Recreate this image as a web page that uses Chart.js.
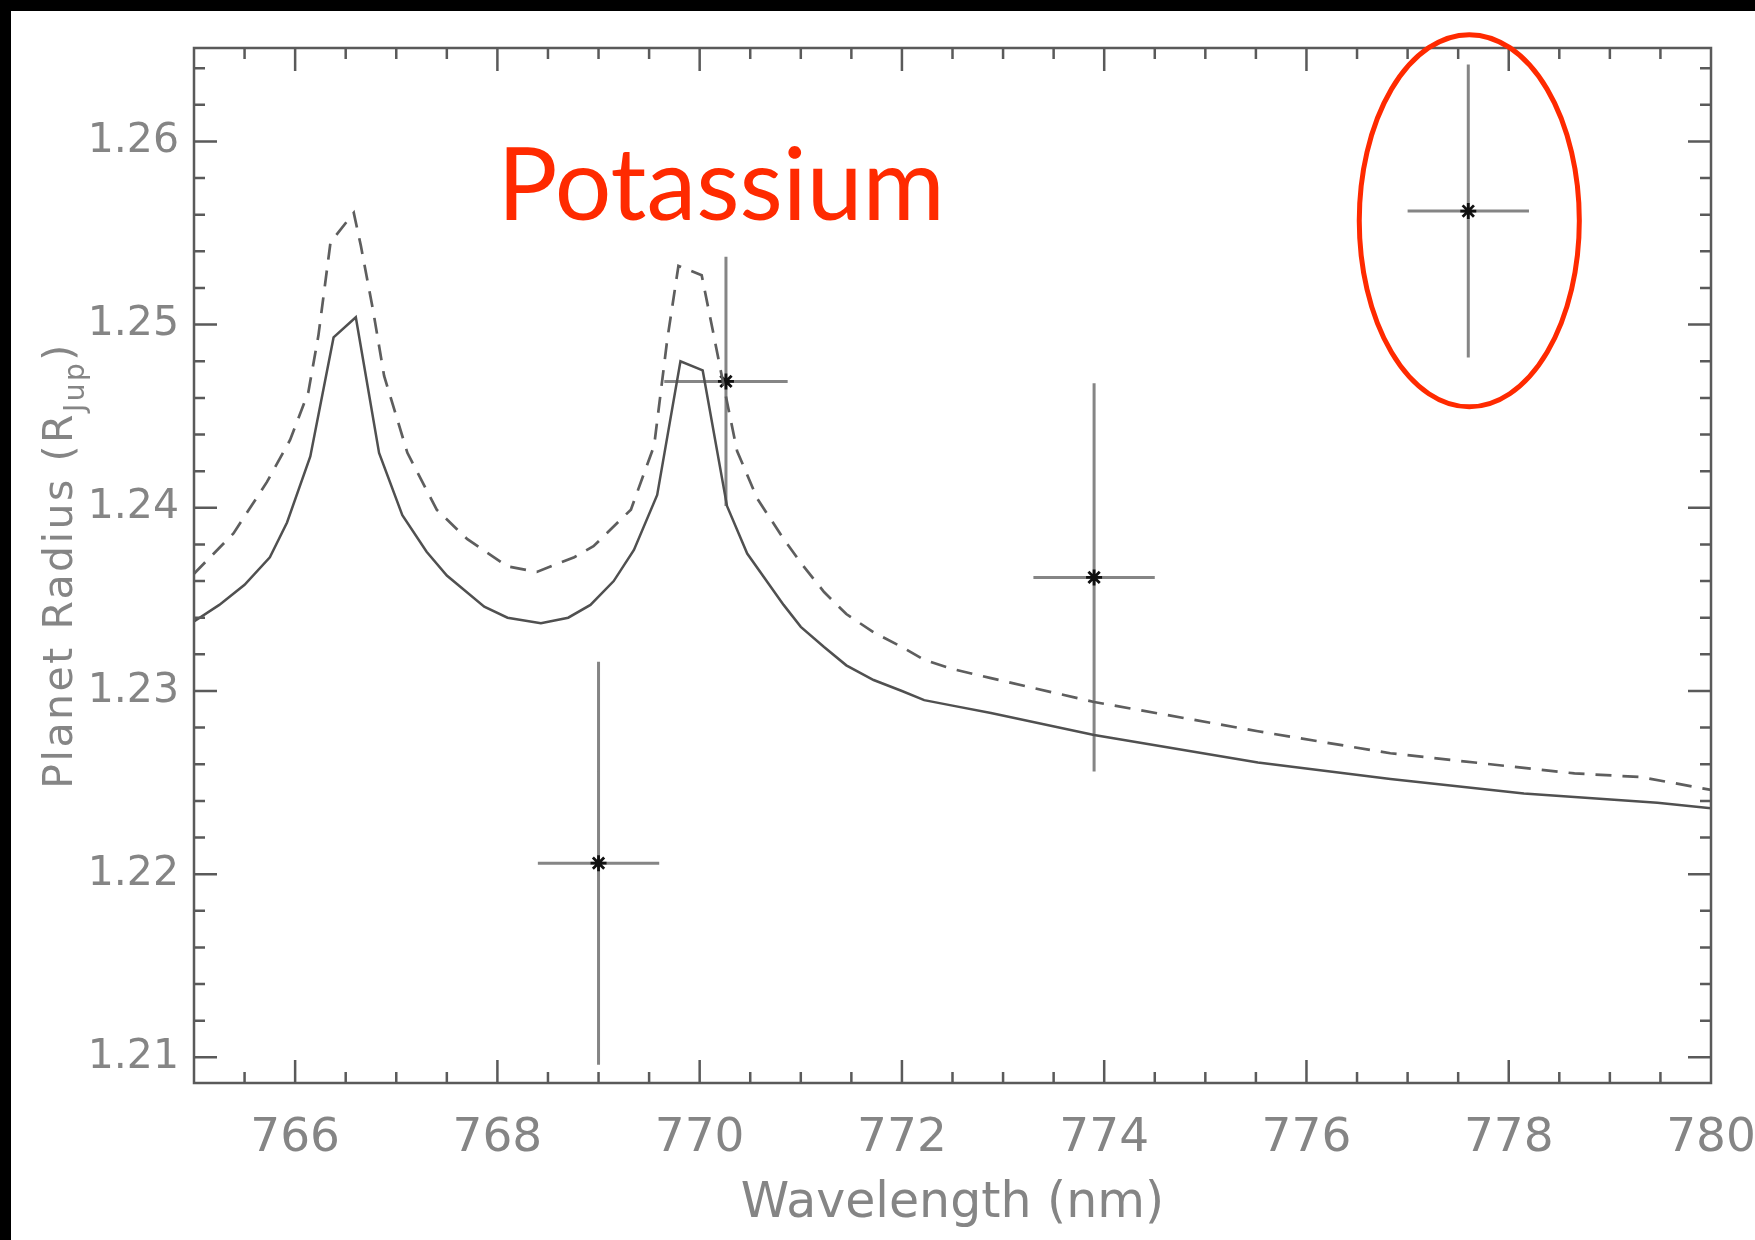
<!DOCTYPE html>
<html>
<head>
<meta charset="utf-8">
<script src="https://cdn.jsdelivr.net/npm/chart.js@4.4.1/dist/chart.umd.min.js"></script>
<style>
  html, body { margin: 0; padding: 0; background: #000; }
  #wrap { position: absolute; left: 11px; top: 11px; width: 1744px; height: 1229px; background: #fff; }
  canvas { display: block; }
</style>
</head>
<body>
<div id="wrap"><canvas id="chart" width="1744" height="1229"></canvas></div>
<script>
// model curves
const solidX = [765.0, 765.25, 765.5, 765.75, 765.92, 766.15, 766.38, 766.6, 766.83, 767.06, 767.3, 767.5,
  767.87, 768.1, 768.43, 768.7, 768.92, 769.15, 769.35, 769.58, 769.81, 770.03, 770.27, 770.47, 770.83,
  771.0, 771.23, 771.45, 771.72, 772.0, 772.22, 772.5, 772.88, 773.9, 775.52, 776.83, 778.15, 779.47, 780.0];
const solidY = [1.2338, 1.2347, 1.2358, 1.2373, 1.2392, 1.2428, 1.2493, 1.2504, 1.2430, 1.2396, 1.2376, 1.2363,
  1.2346, 1.2340, 1.2337, 1.2340, 1.2347, 1.2360, 1.2377, 1.2407, 1.2480, 1.2475, 1.2401, 1.2375, 1.2347,
  1.2335, 1.2324, 1.2314, 1.2306, 1.2300, 1.2295, 1.2292, 1.2288, 1.2276, 1.2261, 1.2252, 1.2244, 1.2239, 1.2236];

const dashedX = [765.0, 765.39, 765.72, 765.95, 766.13, 766.23, 766.35, 766.58, 766.65, 766.77, 766.88, 767.11,
  767.4, 767.7, 768.1, 768.39, 768.76, 768.95, 769.32, 769.55, 769.68, 769.79, 770.02, 770.14, 770.24, 770.37,
  770.57, 770.83, 771.0, 771.23, 771.45, 771.72, 772.0, 772.22, 772.5, 772.88, 773.9, 775.52, 776.83, 778.15,
  778.65, 779.31, 780.0];
const dashedY = [1.2364, 1.2386, 1.2414, 1.2437, 1.2463, 1.2494, 1.2545, 1.2561, 1.2543, 1.2508, 1.2472, 1.2430,
  1.2399, 1.2383, 1.2368, 1.2365, 1.2373, 1.2379, 1.2399, 1.2434, 1.2492, 1.2532, 1.2527, 1.2494, 1.2466, 1.2431,
  1.2405, 1.2383, 1.2370, 1.2354, 1.2342, 1.2332, 1.2324, 1.2317, 1.2312, 1.2307, 1.2294, 1.2278, 1.2266, 1.2258,
  1.2255, 1.2253, 1.2246];

// measured points with error bars
const obsX = [769.0, 770.26, 773.9, 777.6];
const obsY = [1.2206, 1.2469, 1.2362, 1.2562];
const obsXErr = [0.6, 0.61, 0.6, 0.6];
const obsYErr = [0.011, 0.0068, 0.0106, 0.008];

// axes
const xTicks = [766, 768, 770, 772, 774, 776, 778, 780];
const yTicks = [1.21, 1.22, 1.23, 1.24, 1.25, 1.26];
const xMin = 765, xMax = 780;
const yMin = 1.2086, yMax = 1.2651;

// annotations
const labelText = 'Potassium';
const labelAt = [768.0, 1.2557];
const ringAt = [777.61, 1.25567];
const ringRadius = [1.088, 0.01016];

const axisColor = '#5a5a5a';
const textColor = '#858585';

function drawTicks(ctx, a, xs, ys) {
  ctx.save();
  ctx.strokeStyle = axisColor;
  ctx.lineWidth = 2.5;
  ctx.beginPath();
  // x ticks, bottom and top, pointing inward
  for (let v = xMin + 0.5; v < xMax; v += 0.5) {
    const px = xs.getPixelForValue(v);
    const len = xTicks.includes(v) ? 23 : 11;
    ctx.moveTo(px, a.bottom); ctx.lineTo(px, a.bottom - len);
    ctx.moveTo(px, a.top); ctx.lineTo(px, a.top + len);
  }
  // y ticks, left and right
  for (let i = 0; i <= 27; i++) {
    const v = Math.round((1.21 + i * 0.002) * 1000) / 1000;
    const py = ys.getPixelForValue(v);
    if (py < a.top || py > a.bottom) continue;
    const len = (i % 5 === 0) ? 23 : 11;
    ctx.moveTo(a.left, py); ctx.lineTo(a.left + len, py);
    ctx.moveTo(a.right, py); ctx.lineTo(a.right - len, py);
  }
  ctx.stroke();
  ctx.strokeRect(a.left, a.top, a.right - a.left, a.bottom - a.top);
  ctx.restore();
}

const errorBars = {
  id: 'errorBars',
  beforeDatasetsDraw(chart) {
    const ctx = chart.ctx;
    const xs = chart.scales.x, ys = chart.scales.y;
    ctx.save();
    ctx.strokeStyle = '#858585';
    ctx.lineWidth = 3;
    ctx.beginPath();
    obsX.forEach((x, i) => {
      const y = obsY[i];
      ctx.moveTo(xs.getPixelForValue(x - obsXErr[i]), ys.getPixelForValue(y));
      ctx.lineTo(xs.getPixelForValue(x + obsXErr[i]), ys.getPixelForValue(y));
      ctx.moveTo(xs.getPixelForValue(x), ys.getPixelForValue(y - obsYErr[i]));
      ctx.lineTo(xs.getPixelForValue(x), ys.getPixelForValue(y + obsYErr[i]));
    });
    ctx.stroke();
    ctx.restore();
  }
};

const decorations = {
  id: 'decorations',
  afterDraw(chart) {
    const ctx = chart.ctx;
    const a = chart.chartArea;
    const xs = chart.scales.x, ys = chart.scales.y;

    drawTicks(ctx, a, xs, ys);

    // x axis title
    ctx.save();
    ctx.fillStyle = textColor;
    ctx.font = '49px "DejaVu Sans"';
    ctx.textAlign = 'center';
    ctx.textBaseline = 'alphabetic';
    ctx.fillText('Wavelength (nm)', (a.left + a.right) / 2, a.bottom + 134);
    ctx.restore();

    // y axis title with subscript
    ctx.save();
    ctx.fillStyle = textColor;
    ctx.translate(a.left - 122, (a.top + a.bottom) / 2);
    ctx.rotate(-Math.PI / 2);
    ctx.textBaseline = 'alphabetic';
    ctx.letterSpacing = '2.5px';
    const mainFont = '41px "DejaVu Sans"';
    const subFont = '28px "DejaVu Sans"';
    ctx.font = mainFont;
    const w1 = ctx.measureText('Planet Radius (R').width;
    const w3 = ctx.measureText(')').width;
    ctx.font = subFont;
    const w2 = ctx.measureText('Jup').width;
    let x0 = -(w1 + w2 + w3) / 2;
    ctx.font = mainFont;
    ctx.fillText('Planet Radius (R', x0, 0);
    ctx.font = subFont;
    ctx.fillText('Jup', x0 + w1, 12);
    ctx.font = mainFont;
    ctx.fillText(')', x0 + w1 + w2, 0);
    ctx.restore();

    // red label
    ctx.save();
    ctx.fillStyle = '#ff2a00';
    ctx.font = '100px Lato';
    ctx.textAlign = 'left';
    ctx.textBaseline = 'alphabetic';
    ctx.fillText(labelText, xs.getPixelForValue(labelAt[0]), ys.getPixelForValue(labelAt[1]));
    ctx.restore();

    // red ring around the last point
    ctx.save();
    const cx = xs.getPixelForValue(ringAt[0]);
    const cy = ys.getPixelForValue(ringAt[1]);
    const rx = xs.getPixelForValue(ringAt[0] + ringRadius[0]) - cx;
    const ry = cy - ys.getPixelForValue(ringAt[1] + ringRadius[1]);
    ctx.strokeStyle = '#ff2a00';
    ctx.lineWidth = 5;
    ctx.beginPath();
    ctx.ellipse(cx, cy, rx, ry, 0, 0, Math.PI * 2);
    ctx.stroke();
    ctx.restore();
  }
};

new Chart(document.getElementById('chart'), {
  type: 'line',
  data: {
    datasets: [
      {
        label: 'model',
        data: solidX.map((x, i) => ({ x: x, y: solidY[i] })),
        borderColor: '#505050',
        borderWidth: 2.5,
        pointRadius: 0,
        tension: 0
      },
      {
        label: 'model 2',
        data: dashedX.map((x, i) => ({ x: x, y: dashedY[i] })),
        borderColor: '#5e5e5e',
        borderWidth: 2.7,
        borderDash: [16, 11],
        pointRadius: 0,
        tension: 0
      },
      {
        type: 'scatter',
        label: 'data',
        data: obsX.map((x, i) => ({ x: x, y: obsY[i] })),
        pointStyle: 'star',
        pointRadius: 8,
        borderColor: '#111',
        borderWidth: 2.8,
        backgroundColor: '#111'
      }
    ]
  },
  options: {
    responsive: false,
    animation: false,
    devicePixelRatio: 1,
    layout: { padding: { left: 0, right: 44, top: 37, bottom: 0 } },
    plugins: { legend: { display: false }, tooltip: { enabled: false } },
    scales: {
      x: {
        type: 'linear',
        min: xMin,
        max: xMax,
        grid: { display: false, drawTicks: false },
        border: { display: false },
        ticks: {
          color: textColor,
          font: { family: 'DejaVu Sans', size: 47 },
          padding: 28,
          maxRotation: 0,
          autoSkip: false,
          callback: v => String(v)
        },
        afterBuildTicks: s => { s.ticks = xTicks.map(v => ({ value: v })); },
        afterFit: s => { s.height = 157; s.paddingLeft = 0; s.paddingRight = 0; }
      },
      y: {
        type: 'linear',
        min: yMin,
        max: yMax,
        grid: { display: false, drawTicks: false },
        border: { display: false },
        ticks: {
          color: textColor,
          font: { family: 'DejaVu Sans', size: 41 },
          padding: 15,
          autoSkip: false,
          callback: v => v.toFixed(2)
        },
        afterBuildTicks: s => { s.ticks = yTicks.map(v => ({ value: v })); },
        afterFit: s => { s.width = 183; s.paddingTop = 0; s.paddingBottom = 0; }
      }
    }
  },
  plugins: [errorBars, decorations]
});
</script>
</body>
</html>
